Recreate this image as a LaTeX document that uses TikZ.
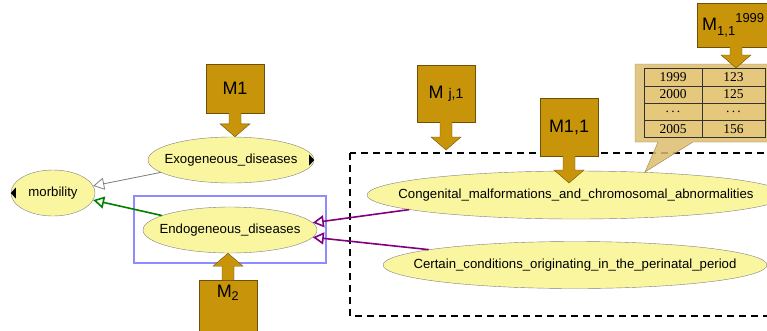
\documentclass[tikz,border=0pt]{standalone}
\usepackage{amsmath}
\usepackage{fontspec}
\setmainfont{Liberation Sans}
\newfontfamily\tablefont{Liberation Serif}
\usetikzlibrary{arrows.meta,shapes.geometric,calc}

\definecolor{mbrown}{RGB}{200,148,10}
\definecolor{mbrowndark}{RGB}{110,80,10}
\definecolor{nodeyellow}{RGB}{250,246,160}
\definecolor{calloutfill}{RGB}{220,188,110}
\definecolor{tablefill}{RGB}{230,200,125}
\definecolor{selblue}{RGB}{140,140,255}
\definecolor{linkpurple}{RGB}{128,0,128}
\definecolor{linkgreen}{RGB}{0,128,0}

\tikzset{
  var/.style={ellipse, draw=gray, fill=nodeyellow, inner sep=0pt, font=\fontsize{13.2}{15}\selectfont},
  mbox/.style={draw=mbrowndark, fill=mbrown, line width=0.4pt, minimum width=58pt, inner sep=0pt, font=\fontsize{18}{20}\selectfont},
  link/.style={-{Triangle[open,length=11pt,width=12pt]}, line width=1.6pt},
  tcell/.style={font=\tablefont\fontsize{13.5}{14}\selectfont, inner sep=0pt},
}

% label that does not widen its ellipse
\newcommand{\varlabel}[1]{\makebox[0pt]{#1}}

% block arrow from a box down (or up) to a tip
\newcommand{\blockdown}[2]{%
  \path[fill=mbrown, draw=mbrowndark, line width=0.4pt] let \p1=(#1), \p2=(#2) in
    (\x1-6pt,\y1) -- (\x1-6pt,\y2+13pt) -- (\x1-15pt,\y2+13pt) -- (\x1,\y2)
    -- (\x1+15pt,\y2+13pt) -- (\x1+6pt,\y2+13pt) -- (\x1+6pt,\y1);}
\newcommand{\blockup}[2]{%
  \path[fill=mbrown, draw=mbrowndark, line width=0.4pt] let \p1=(#1), \p2=(#2) in
    (\x1-6pt,\y1) -- (\x1-6pt,\y2-13pt) -- (\x1-15pt,\y2-13pt) -- (\x1,\y2)
    -- (\x1+15pt,\y2-13pt) -- (\x1+6pt,\y2-13pt) -- (\x1+6pt,\y1);}

\begin{document}
\begin{tikzpicture}[x=1pt,y=-1pt]
\clip (0,0) rectangle (767,330);

% group of endogeneous causes
\draw[line width=1.5pt, dash pattern=on 7pt off 5pt] (350,153) rectangle (790,316);

% variables
\node[var, minimum width=84pt, minimum height=46pt] (morb) at (53,193) {\varlabel{morbility}};
\node[var, minimum width=166pt, minimum height=46pt] (exo) at (231,160) {\varlabel{Exogeneous\_diseases}};
\node[var, minimum width=174pt, minimum height=46pt] (endo) at (230,230) {\varlabel{Endogeneous\_diseases}};
\node[var, minimum width=418pt, minimum height=48pt] (cong) at (576,195) {\varlabel{Congenital\_malformations\_and\_chromosomal\_abnormalities}};
\node[var, minimum width=384pt, minimum height=47pt] (cert) at (575,265) {\varlabel{Certain\_conditions\_originating\_in\_the\_perinatal\_period}};

\fill (morb.west) -- ++(5,-5.5) -- ++(0,11) -- cycle;
\fill (exo.east) -- ++(-5,-5.5) -- ++(0,11) -- cycle;

% selection
\draw[selblue, line width=2.5pt] (134,196) rectangle (326,263);

% links
\draw[link, gray, line width=0.8pt] (exo.190) -- (morb.10);
\draw[link, linkgreen] (endo.168) -- (morb.-10);
\draw[link, linkpurple] (cong.185) -- (endo.5);
\draw[link, linkpurple] (cert.174) -- (endo.-5);

% model boxes
\coordinate (mj1tip) at (446,150);
\coordinate (m11tip) at (569,183);
\coordinate (tabletop) at (736,68);

\node[mbox, minimum height=49pt] (m1) at (235,88.5) {M1};
\node[mbox, minimum height=57pt] (mj1) at (446,93.5) {M {\fontsize{14}{16}\selectfont j,1}};
\node[mbox, minimum height=58pt] (m11) at (569,127) {M1,1};
\node[mbox, anchor=north, minimum height=0pt, inner ysep=0pt, text height=17pt, text depth=40pt] (m2) at (228,280) {M$_{\text{2}}$};

\blockdown{m1.south}{m1 |- exo.north}
\blockdown{mj1.south}{mj1tip}
\blockdown{m11.south}{m11tip}
\blockup{m2.north}{m2 |- endo.south}

% yearly values
\filldraw[fill=calloutfill, fill opacity=0.85, draw=mbrowndark!70, line width=0.4pt]
  (635,64) -- (790,64) -- (790,142) -- (693,142) -- (645,172) -- (658,142) -- (635,142) -- cycle;
\fill[tablefill] (644,68) rectangle (765,137);
\draw[line width=0.6pt, black!80] (644,68) rectangle (765,137);
\draw[line width=0.6pt, black!80] (702,68) -- (702,137);
\foreach \y in {86,103,120}
  \draw[line width=0.6pt, black!80] (644,\y) -- (765,\y);
\foreach \yr/\val [count=\i from 0] in {1999/123, 2000/125, {.\,.\,.}/{.\,.\,.}, 2005/156} {
  \node[tcell] (yr\i) at (673,77+17.25*\i) {\yr};
  \node[tcell] (val\i) at (733.5,77+17.25*\i) {\val};
}

\node[mbox, anchor=west, minimum width=96pt, minimum height=44pt, inner xsep=5pt, text width=86pt, align=left] (m11y) at (697,25)
  {M{\fontsize{13}{14}\selectfont\raisebox{-5pt}{1,1}\raisebox{8pt}{1999}}};
\blockdown{$(m11y.south west)+(39,0)$}{tabletop}
\end{tikzpicture}
\end{document}
